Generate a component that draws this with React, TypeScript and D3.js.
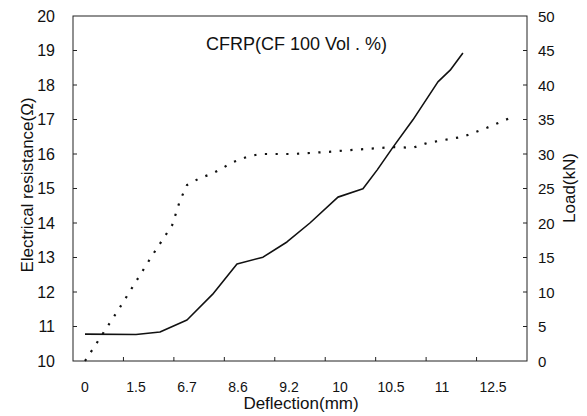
import React from "react";
import * as d3 from "d3";

// x-axis category labels (deflection, mm)
const xTickLabels = ["0", "1.5", "6.7", "8.6", "9.2", "10", "10.5", "11", "12.5"];
// left axis ticks (electrical resistance, ohm)
const resistanceTicks = [10, 11, 12, 13, 14, 15, 16, 17, 18, 19, 20];
// right axis ticks (load, kN)
const loadTicks = [0, 5, 10, 15, 20, 25, 30, 35, 40, 45, 50];

// resistance curve (solid) — x in label-index units
const resistanceX = [0, 1.0, 1.47, 2.0, 2.5, 2.98, 3.49, 3.96, 4.41, 4.96, 5.45, 5.73, 6.04, 6.43, 6.92, 7.16, 7.41];
const resistanceY = [10.78, 10.77, 10.84, 11.19, 11.93, 12.81, 13.01, 13.45, 14.0, 14.75, 14.99, 15.54, 16.2, 16.99, 18.09, 18.43, 18.93];

// load curve (dotted)
const loadX = [0, 0.67, 1.31, 1.71, 1.86, 2.0, 2.25, 2.51, 2.9, 3.18, 3.43, 4.08, 4.75, 5.25, 6.04, 6.43, 6.71, 7.41, 7.88, 8.39];
const loadY = [0, 7.6, 15.2, 19.7, 23.2, 25.5, 26.5, 27.2, 28.8, 29.6, 30.0, 30.0, 30.3, 30.6, 31.0, 30.9, 31.6, 32.5, 33.8, 35.4];

const W = 587;
const H = 416;
const FONT = "Arial, 'Liberation Sans', Helvetica, sans-serif";

export default function App() {
  const left = 73, right = 527, top = 16, bottom = 361;
  const x = d3.scaleLinear().domain([0, 8]).range([85, 493]);
  const yL = d3.scaleLinear().domain([10, 20]).range([bottom, top]);
  const yR = d3.scaleLinear().domain([0, 50]).range([bottom, top]);
  const frameTick = d3.scaleLinear().domain([0, 9]).range([left, right]);

  const resPts: [number, number][] = resistanceX.map((v, i) => [x(v), yL(resistanceY[i])]);
  const loadPts: [number, number][] = loadX.map((v, i) => [x(v), yR(loadY[i])]);
  const line = d3.line().curve(d3.curveLinear);

  const tickLen = 4;
  const stroke = "#222";

  return (
    <svg width={W} height={H} style={{ position: "absolute", left: 0, top: 0, background: "#fff" }} fontFamily={FONT}>
      <rect x={0} y={0} width={W} height={H} fill="#fff" />
      {/* frame */}
      <rect x={left} y={top} width={right - left} height={bottom - top} fill="none" stroke={stroke} strokeWidth={1} />
      {/* left ticks */}
      {resistanceTicks.map((t) => (
        <g key={"l" + t}>
          {t > 10 && t < 20 && <line x1={left} x2={left + tickLen} y1={yL(t)} y2={yL(t)} stroke={stroke} />}
          <text x={55} y={yL(t)} textAnchor="end" dominantBaseline="central" fontSize={16} fill="#111">{t}</text>
        </g>
      ))}
      {/* right ticks */}
      {loadTicks.map((t) => (
        <g key={"r" + t}>
          {t > 0 && t < 50 && <line x1={right} x2={right - tickLen} y1={yR(t)} y2={yR(t)} stroke={stroke} />}
          <text x={538} y={yR(t)} textAnchor="start" dominantBaseline="central" fontSize={15} fill="#111">{t}</text>
        </g>
      ))}
      {/* bottom tick marks */}
      {d3.range(1, 9).map((k) => (
        <line key={"b" + k} x1={frameTick(k)} x2={frameTick(k)} y1={bottom} y2={bottom - tickLen} stroke={stroke} />
      ))}
      {/* bottom labels */}
      {xTickLabels.map((lab, i) => (
        <text key={"xl" + i} x={x(i)} y={392} textAnchor="middle" fontSize={14} fill="#111">{lab}</text>
      ))}
      {/* curves */}
      <path d={line(resPts) || ""} fill="none" stroke="#111" strokeWidth={1.6} strokeLinejoin="round" />
      <path d={line(loadPts) || ""} fill="none" stroke="#111" strokeWidth={2.2} strokeDasharray="2.2 8.5" />
      {/* titles */}
      <text x={296.5} y={50} textAnchor="middle" fontSize={18} fill="#111">CFRP(CF 100 Vol . %)</text>
      <text x={301} y={409} textAnchor="middle" fontSize={17} fill="#111">Deflection(mm)</text>
      <text transform="translate(33,185) rotate(-90)" textAnchor="middle" fontSize={17} fill="#111">Electrical resistance(Ω)</text>
      <text transform="translate(575,188) rotate(-90)" textAnchor="middle" fontSize={17} fill="#111">Load(kN)</text>
    </svg>
  );
}
